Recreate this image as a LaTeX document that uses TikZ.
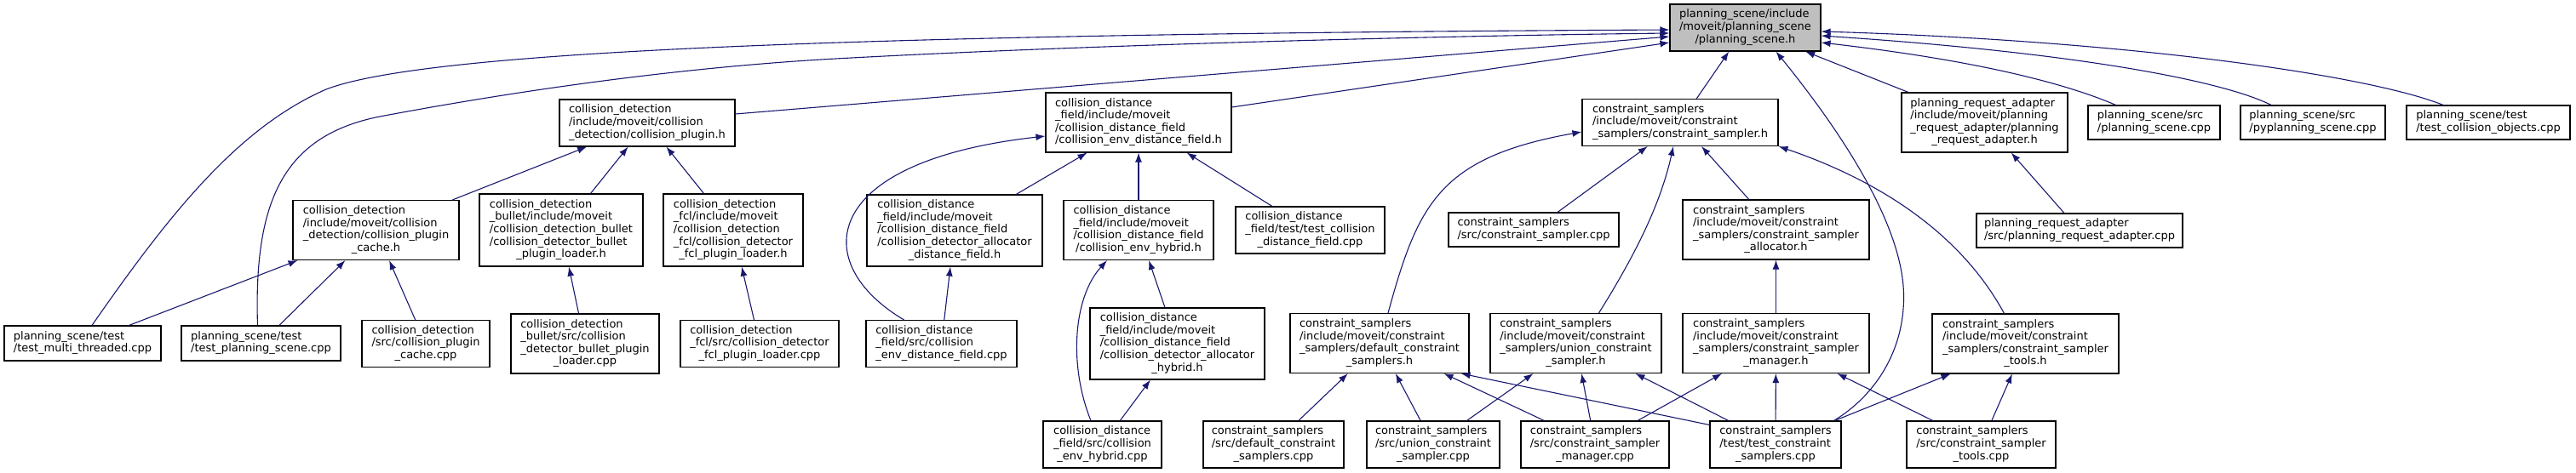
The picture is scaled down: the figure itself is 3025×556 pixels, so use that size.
\documentclass[tikz,border=0pt]{standalone}
\usepackage{fontspec}
\setmainfont{DejaVu Sans}
\usetikzlibrary{arrows.meta}
\definecolor{edgeblue}{RGB}{25,25,112}
\newcommand{\fn}[1]{\begin{tabular}{@{}l@{}}#1\end{tabular}}
\newcommand{\lastln}[1]{\multicolumn{1}{@{}c@{}}{#1}}

\begin{document}
\begin{tikzpicture}[x=1pt,y=-1pt,
  file/.style={draw=black, line width=1.1pt, fill=white, inner sep=0pt,
    font=\fontsize{13}{14.6}\selectfont},
  dep/.style={draw=edgeblue, line width=1.1pt, -{Latex[length=11pt,width=8pt]}}]
\useasboundingbox (0,0) rectangle (3025,556);
%Place the header at the top, then each row of files
% that include it, one row per level of the graph.
% Boxes are placed at their centres (pixel units, y down).
\node[file, minimum width=177, minimum height=55, fill=black!25] (ps) at (2049.5,32.5)
  {\fn{planning\_scene/include\\/moveit/planning\_scene\\\lastln{/planning\_scene.h}}};
% second row
\node[file, minimum width=206, minimum height=55] (cp) at (760,144.5)
  {\fn{collision\_detection\\/include/moveit/collision\\\lastln{\_detection/collision\_plugin.h}}};
\node[file, minimum width=218, minimum height=70] (cdf) at (1337,144)
  {\fn{collision\_distance\\\_field/include/moveit\\/collision\_distance\_field\\\lastln{/collision\_env\_distance\_field.h}}};
\node[file, minimum width=230, minimum height=55] (cs) at (1973,144)
  {\fn{constraint\_samplers\\/include/moveit/constraint\\\lastln{\_samplers/constraint\_sampler.h}}};
\node[file, minimum width=195, minimum height=70] (pra) at (2330.5,144)
  {\fn{planning\_request\_adapter\\/include/moveit/planning\\\_request\_adapter/planning\\\lastln{\_request\_adapter.h}}};
\node[file, minimum width=155, minimum height=40] (psc) at (2529.5,144)
  {\fn{planning\_scene/src\\\lastln{/planning\_scene.cpp}}};
\node[file, minimum width=170, minimum height=40] (pyps) at (2716,144)
  {\fn{planning\_scene/src\\\lastln{/pyplanning\_scene.cpp}}};
\node[file, minimum width=192, minimum height=40] (tco) at (2922,144)
  {\fn{planning\_scene/test\\\lastln{/test\_collision\_objects.cpp}}};
% third row
\node[file, minimum width=195, minimum height=70] (cache) at (441.5,270.5)
  {\fn{collision\_detection\\/include/moveit/collision\\\_detection/collision\_plugin\\\lastln{\_cache.h}}};
\node[file, minimum width=192, minimum height=85] (bullh) at (659,270.5)
  {\fn{collision\_detection\\\_bullet/include/moveit\\/collision\_detection\_bullet\\/collision\_detector\_bullet\\\lastln{\_plugin\_loader.h}}};
\node[file, minimum width=164, minimum height=85] (fclh) at (861,270.5)
  {\fn{collision\_detection\\\_fcl/include/moveit\\/collision\_detection\\\_fcl/collision\_detector\\\lastln{\_fcl\_plugin\_loader.h}}};
\node[file, minimum width=206, minimum height=84] (adfh) at (1121,271)
  {\fn{collision\_distance\\\_field/include/moveit\\/collision\_distance\_field\\/collision\_detector\_allocator\\\lastln{\_distance\_field.h}}};
\node[file, minimum width=176, minimum height=70] (ehh) at (1337,270.5)
  {\fn{collision\_distance\\\_field/include/moveit\\/collision\_distance\_field\\\lastln{/collision\_env\_hybrid.h}}};
\node[file, minimum width=175, minimum height=55] (tcdf) at (1538.5,270.5)
  {\fn{collision\_distance\\\_field/test/test\_collision\\\lastln{\_distance\_field.cpp}}};
\node[file, minimum width=200, minimum height=40] (csc) at (1801,270)
  {\fn{constraint\_samplers\\\lastln{/src/constraint\_sampler.cpp}}};
\node[file, minimum width=219, minimum height=70] (alh) at (2085.5,270)
  {\fn{constraint\_samplers\\/include/moveit/constraint\\\_samplers/constraint\_sampler\\\lastln{\_allocator.h}}};
\node[file, minimum width=242, minimum height=40] (prac) at (2442,271)
  {\fn{planning\_request\_adapter\\\lastln{/src/planning\_request\_adapter.cpp}}};
% fourth row
\node[file, minimum width=184, minimum height=41] (tmt) at (97,403.5)
  {\fn{planning\_scene/test\\\lastln{/test\_multi\_threaded.cpp}}};
\node[file, minimum width=187, minimum height=41] (tps) at (306.5,403.5)
  {\fn{planning\_scene/test\\\lastln{/test\_planning\_scene.cpp}}};
\node[file, minimum width=150, minimum height=55] (cachec) at (500,404)
  {\fn{collision\_detection\\/src/collision\_plugin\\\lastln{\_cache.cpp}}};
\node[file, minimum width=174, minimum height=70] (bullc) at (687,404)
  {\fn{collision\_detection\\\_bullet/src/collision\\\_detector\_bullet\_plugin\\\lastln{\_loader.cpp}}};
\node[file, minimum width=186, minimum height=55] (fclc) at (892,404)
  {\fn{collision\_detection\\\_fcl/src/collision\_detector\\\lastln{\_fcl\_plugin\_loader.cpp}}};
\node[file, minimum width=177, minimum height=55] (edfc) at (1105.5,404)
  {\fn{collision\_distance\\\_field/src/collision\\\lastln{\_env\_distance\_field.cpp}}};
\node[file, minimum width=205, minimum height=84] (ahh) at (1382.5,404)
  {\fn{collision\_distance\\\_field/include/moveit\\/collision\_distance\_field\\/collision\_detector\_allocator\\\lastln{\_hybrid.h}}};
\node[file, minimum width=210, minimum height=70] (dfh) at (1620,403.5)
  {\fn{constraint\_samplers\\/include/moveit/constraint\\\_samplers/default\_constraint\\\lastln{\_samplers.h}}};
\node[file, minimum width=201, minimum height=70] (unh) at (1850.5,403.5)
  {\fn{constraint\_samplers\\/include/moveit/constraint\\\_samplers/union\_constraint\\\lastln{\_sampler.h}}};
\node[file, minimum width=219, minimum height=70] (mgh) at (2085.5,403.5)
  {\fn{constraint\_samplers\\/include/moveit/constraint\\\_samplers/constraint\_sampler\\\lastln{\_manager.h}}};
\node[file, minimum width=219, minimum height=70] (tlh) at (2378.5,404)
  {\fn{constraint\_samplers\\/include/moveit/constraint\\\_samplers/constraint\_sampler\\\lastln{\_tools.h}}};
% bottom row
\node[file, minimum width=139, minimum height=55] (ehc) at (1294.5,522.5)
  {\fn{collision\_distance\\\_field/src/collision\\\lastln{\_env\_hybrid.cpp}}};
\node[file, minimum width=165, minimum height=55] (dfc) at (1495.5,522.5)
  {\fn{constraint\_samplers\\/src/default\_constraint\\\lastln{\_samplers.cpp}}};
\node[file, minimum width=156, minimum height=55] (unc) at (1683,522.5)
  {\fn{constraint\_samplers\\/src/union\_constraint\\\lastln{\_sampler.cpp}}};
\node[file, minimum width=174, minimum height=55] (mgc) at (1873,522.5)
  {\fn{constraint\_samplers\\/src/constraint\_sampler\\\lastln{\_manager.cpp}}};
\node[file, minimum width=154, minimum height=55] (tcs) at (2085,522.5)
  {\fn{constraint\_samplers\\/test/test\_constraint\\\lastln{\_samplers.cpp}}};
\node[file, minimum width=175, minimum height=55] (tlc) at (2326.5,522.5)
  {\fn{constraint\_samplers\\/src/constraint\_sampler\\\lastln{\_tools.cpp}}};
% edges into the top header
\draw[dep] ([xshift=11pt]tmt.north) .. controls (200,250) and (280,150) .. (383,105)
  .. controls (500,60) and (1000,40) .. ([yshift=-2.5pt]ps.west);
\draw[dep] ([xshift=-4pt]tps.north) .. controls (298,240) and (330,160) .. (446,137)
  .. controls (600,108) and (800,78) .. (1000,68)
  .. controls (1300,52) and (1700,42) .. ([yshift=-6.5pt]ps.west);
\draw[dep] ([yshift=10.5pt]cp.east) -- ([yshift=-10.5pt]ps.west);
\draw[dep] ([yshift=18pt]cdf.east) -- ([yshift=-17.5pt]ps.west);
\draw[dep] (cs) -- (ps);
\draw[dep] (pra) -- (ps);
\draw[dep] ([xshift=-9pt]tcs.north east) .. controls (2210,460) and (2240,400) .. (2235,336)
  .. controls (2228,250) and (2150,140) .. ([xshift=36pt]ps.south);
\draw[dep] ([xshift=-45pt]psc.north) .. controls (2430,100) and (2330,72) .. ([yshift=-17.5pt]ps.east);
\draw[dep] ([xshift=-49pt]pyps.north) .. controls (2610,95) and (2440,62) .. ([yshift=-9.5pt]ps.east);
\draw[dep] ([xshift=-53pt]tco.north) .. controls (2780,88) and (2500,48) .. ([yshift=-4.5pt]ps.east);
% collision detection
\draw[dep] (cache) -- (cp);
\draw[dep] (bullh) -- (cp);
\draw[dep] (fclh) -- (cp);
\draw[dep] (tmt) -- (cache);
\draw[dep] (tps) -- (cache);
\draw[dep] (cachec) -- (cache);
\draw[dep] (bullc) -- (bullh);
\draw[dep] (fclc) -- (fclh);
% collision distance field
\draw[dep] (adfh) -- (cdf);
\draw[dep] (ehh) -- (cdf);
\draw[dep] (tcdf) -- (cdf);
\draw[dep] ([xshift=-44pt]edfc.north) .. controls (950,310) and (960,190) .. ([yshift=-16pt]cdf.west);
\draw[dep] (edfc) -- (adfh);
\draw[dep] ([xshift=-13.5pt]ehc.north) .. controls (1255,430) and (1260,350) .. ([xshift=-37pt]ehh.south);
\draw[dep] (ahh) -- (ehh);
\draw[dep] (ehc) -- (ahh);
% constraint samplers
\draw[dep] ([xshift=10pt]dfh.north) .. controls (1665,240) and (1690,185) .. ([yshift=-11pt]cs.west);
\draw[dep] (csc) -- (cs);
\draw[dep] ([xshift=27pt]unh.north) .. controls (1920,300) and (1950,240) .. ([xshift=-8pt]cs.south);
\draw[dep] (alh) -- (cs);
\draw[dep] ([xshift=-25pt]tlh.north) .. controls (2300,270) and (2200,210) .. (cs.south east);
\draw[dep] (mgh) -- (alh);
\draw[dep] (prac) -- (pra);
\draw[dep] (dfc) -- (dfh);
\draw[dep] (unc) -- (dfh);
\draw[dep] (mgc) -- (dfh);
\draw[dep] ([yshift=-5pt]tcs.north west) -- ([xshift=-10pt]dfh.south east);
\draw[dep] (unc) -- (unh);
\draw[dep] (mgc) -- (unh);
\draw[dep] (tcs) -- (unh);
\draw[dep] (mgc) -- (mgh);
\draw[dep] (tcs) -- (mgh);
\draw[dep] (tlc) -- (mgh);
\draw[dep] (tcs) -- (tlh);
\draw[dep] (tlc) -- (tlh);
\end{tikzpicture}
\end{document}
